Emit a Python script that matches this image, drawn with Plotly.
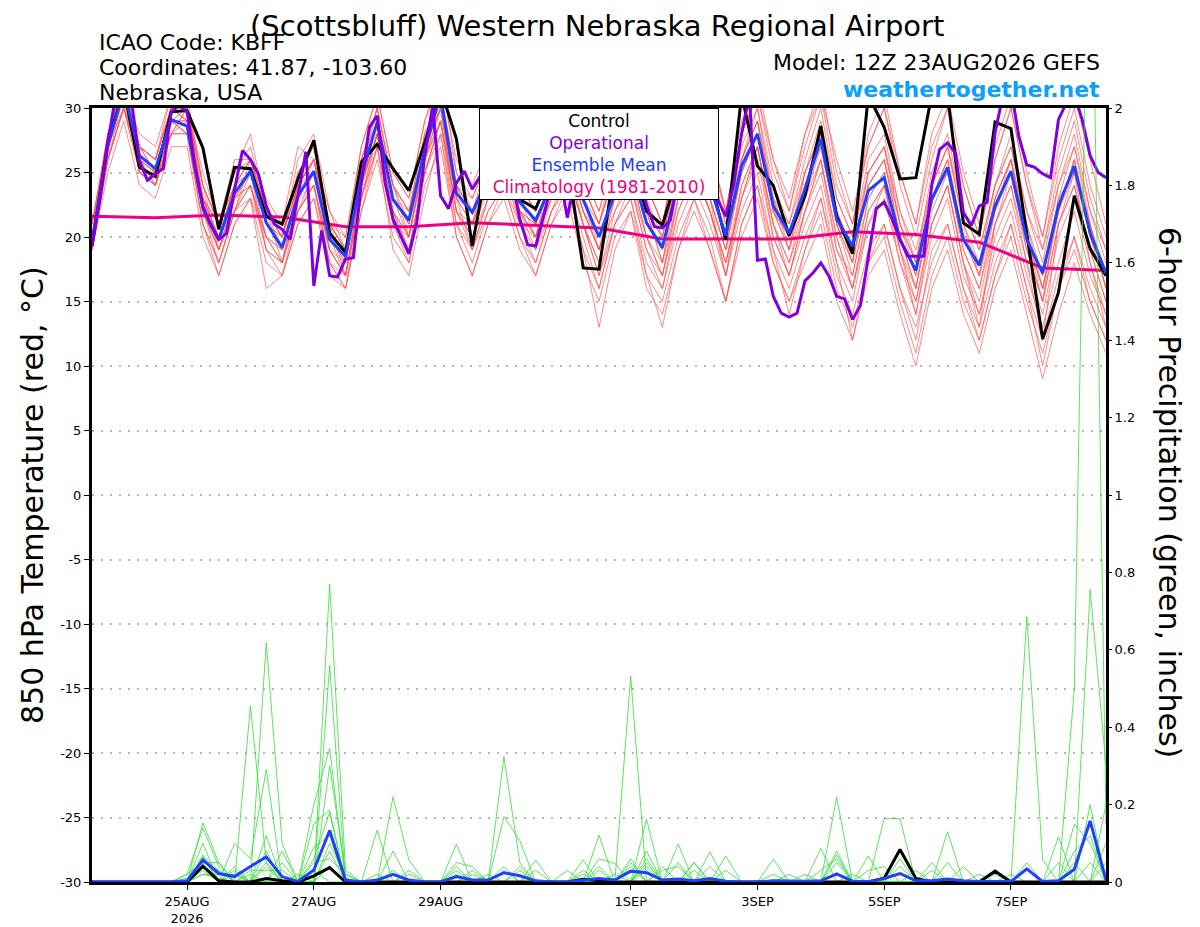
import pandas as pd
import plotly.graph_objects as go

# time axes
t6 = pd.date_range("2026-08-23 12:00", periods=65, freq="6h")
t3 = pd.date_range("2026-08-23 12:00", periods=129, freq="3h")
t24 = pd.date_range("2026-08-23 12:00", periods=17, freq="D")

tick_dates = ["2026-08-25", "2026-08-27", "2026-08-29", "2026-09-01",
              "2026-09-03", "2026-09-05", "2026-09-07"]
tick_text = ["25AUG<br>2026", "27AUG", "29AUG", "1SEP", "3SEP", "5SEP", "7SEP"]

temp_ticks = [-30, -25, -20, -15, -10, -5, 0, 5, 10, 15, 20, 25, 30]
temp_tick_text = ["-30", "-25", "-20", "-15", "-10", "-5", "0", "5", "10", "15", "20", "25", "30"]

# 850 hPa temperature (C)
control_t = [19.3, 27.3, 31.5, 25.4, 24.7, 29.7, 29.8, 26.9, 20.6, 25.4,
             25.3, 21.6, 21.0, 24.5, 27.5, 20.3, 18.8, 25.8, 27.2, 25.3,
             23.6, 27.3, 31.5, 27.6, 19.3, 26.0, 26.5, 22.9, 22.2, 25.0,
             26.0, 17.6, 17.5, 25.5, 26.0, 22.0, 20.9, 25.0, 27.0, 24.5,
             19.8, 31.0, 25.5, 24.0, 20.1, 23.2, 28.6, 21.6, 18.7, 31.0,
             28.5, 24.5, 24.6, 31.0, 31.0, 21.1, 20.2, 28.9, 28.4, 20.3,
             12.1, 15.7, 23.2, 19.1, 17.0]

mean_t = [19.6, 27.0, 31.5, 26.3, 25.3, 29.1, 28.6, 22.2, 19.8, 23.4,
          25.1, 21.1, 19.2, 23.2, 25.1, 19.8, 18.5, 24.7, 28.9, 22.9,
          21.3, 26.8, 31.0, 23.4, 21.9, 24.5, 26.5, 22.7, 21.3, 24.0,
          26.0, 22.9, 20.0, 23.4, 25.5, 21.1, 19.2, 24.2, 26.5, 24.0,
          20.1, 25.5, 28.0, 22.4, 20.3, 23.7, 27.6, 21.4, 19.3, 23.6,
          24.6, 19.8, 17.4, 22.9, 25.4, 19.8, 17.8, 22.4, 25.1, 19.8,
          17.2, 22.4, 25.5, 20.3, 17.2]

# operational run is 3-hourly
oper_t = [19.3, 22.9, 27.3, 31.0, 31.5, 30.5, 25.9, 24.4, 24.9, 25.3,
          29.7, 30.2, 29.7, 25.5, 22.4, 20.9, 19.8, 20.3, 23.7, 26.7,
          26.0, 24.9, 22.4, 21.0, 20.6, 19.8, 23.2, 26.6, 16.2, 20.5,
          17.0, 16.9, 18.3, 18.4, 24.2, 28.5, 29.4, 24.2, 21.4, 20.1,
          18.7, 21.1, 26.3, 30.2, 23.2, 22.2, 24.2, 25.1, 23.7, 24.7,
          25.5, 26.5, 27.0, 24.5, 21.4, 19.4, 19.3, 21.6, 24.0, 25.0,
          21.5, 24.5, 25.0, 24.5, 24.5, 25.5, 26.0, 27.0, 27.0, 25.0,
          22.5, 20.8, 20.7, 21.3, 24.5, 26.0, 27.5, 26.0, 24.0, 22.9,
          21.6, 24.0, 28.0, 31.0, 18.2, 18.3, 15.4, 14.1, 13.8, 14.1,
          16.6, 17.2, 18.0, 17.0, 15.4, 15.2, 13.6, 14.7, 18.3, 22.2,
          22.7, 21.4, 19.8, 18.5, 18.5, 18.5, 24.0, 26.8, 27.3, 26.5,
          21.9, 20.9, 22.4, 22.7, 28.1, 31.0, 31.5, 27.8, 25.6, 25.4,
          24.9, 24.6, 29.1, 30.4, 31.0, 29.1, 26.3, 25.0, 24.6]

clim_t = [21.6, 21.5, 21.7, 21.55, 20.8, 20.8, 21.1, 20.9, 20.7,
          19.85, 19.85, 19.85, 20.4, 20.2, 19.6, 17.6, 17.4]

temp_members = [
    [20, 28, 32, 27, 26, 30, 30, 24, 21, 25, 27, 22, 20, 25, 27, 21, 19, 26, 30, 24,
     22, 28, 31, 25, 23, 26, 28, 24, 22, 26, 28, 24, 21, 25, 28, 23, 20, 26, 29, 26,
     21, 27, 30, 24, 21, 26, 30, 23, 20, 26, 28, 22, 18, 25, 28, 22, 19, 24, 28, 22,
     18, 24, 28, 22, 18],
    [19, 26, 30, 25, 24, 28, 28, 21, 18, 22, 24, 19, 18, 22, 24, 18, 17, 23, 27, 21,
     19, 25, 28, 21, 19, 22, 24, 21, 19, 22, 24, 20, 16, 21, 23, 18, 16, 21, 24, 21,
     17, 22, 25, 19, 16, 20, 23, 17, 14, 19, 21, 16, 13, 18, 21, 16, 13, 18, 21, 16,
     12, 17, 20, 16, 13],
    [21, 27, 31, 28, 27, 31, 30, 25, 21, 26, 26, 23, 21, 27, 26, 22, 20, 27, 31, 25,
     23, 29, 32, 26, 24, 27, 29, 25, 23, 28, 30, 25, 22, 26, 29, 24, 21, 27, 30, 27,
     22, 28, 31, 26, 23, 28, 31, 26, 22, 27, 30, 25, 21, 27, 30, 24, 20, 26, 30, 24,
     19, 25, 29, 23, 19],
    [20, 27, 30, 26, 24, 29, 29, 23, 19, 23, 24, 20, 18, 23, 25, 19, 17, 24, 28, 22,
     20, 26, 29, 22, 20, 23, 25, 22, 20, 23, 25, 21, 18, 23, 25, 20, 17, 23, 25, 22,
     18, 24, 27, 21, 18, 22, 25, 19, 16, 22, 24, 19, 15, 21, 24, 18, 15, 21, 24, 19,
     15, 21, 24, 19, 15],
    [20, 26, 30, 27, 25, 28, 30, 24, 19, 22, 26, 22, 18, 24, 26, 21, 17, 24, 29, 24,
     20, 26, 31, 24, 21, 25, 27, 22, 20, 25, 27, 22, 19, 24, 27, 22, 18, 25, 28, 23,
     19, 26, 29, 23, 19, 25, 28, 22, 18, 25, 27, 21, 17, 24, 27, 21, 17, 23, 26, 21,
     16, 22, 26, 21, 16],
    [19, 25, 29, 24, 23, 27, 27, 20, 17, 21, 23, 18, 17, 21, 23, 17, 16, 22, 26, 20,
     18, 24, 27, 20, 17, 21, 23, 19, 17, 21, 23, 18, 15, 20, 22, 17, 15, 20, 23, 19,
     15, 21, 24, 18, 15, 19, 22, 16, 13, 18, 20, 15, 11, 17, 20, 15, 12, 17, 20, 15,
     11, 16, 19, 15, 12],
    [21, 28, 32, 26, 25, 30, 29, 23, 20, 24, 25, 21, 20, 24, 26, 20, 18, 25, 29, 23,
     22, 27, 30, 24, 22, 25, 27, 23, 21, 24, 27, 23, 20, 23, 26, 21, 19, 25, 27, 24,
     20, 26, 29, 22, 20, 24, 28, 21, 18, 24, 26, 20, 16, 23, 26, 20, 17, 23, 26, 20,
     16, 22, 26, 20, 16],
    [20, 27, 31, 26, 25, 29, 28, 22, 19, 23, 25, 20, 19, 22, 24, 19, 18, 24, 28, 21,
     20, 26, 30, 23, 21, 24, 26, 22, 21, 25, 27, 23, 19, 22, 24, 19, 17, 22, 25, 22,
     17, 23, 26, 20, 17, 21, 24, 18, 15, 21, 23, 18, 14, 20, 23, 17, 14, 19, 22, 17,
     13, 18, 22, 17, 14],
    [20, 27, 31, 27, 26, 30, 30, 23, 21, 24, 26, 22, 20, 24, 26, 21, 19, 26, 30, 24,
     22, 28, 31, 24, 23, 26, 28, 24, 22, 27, 29, 24, 21, 26, 29, 24, 21, 27, 30, 26,
     22, 28, 31, 25, 22, 27, 31, 24, 21, 27, 30, 24, 20, 26, 30, 24, 20, 26, 30, 24,
     20, 26, 30, 24, 20],
    [19, 26, 31, 25, 24, 29, 28, 21, 18, 22, 23, 20, 18, 22, 25, 20, 17, 23, 28, 22,
     19, 25, 29, 22, 19, 23, 25, 21, 18, 22, 25, 21, 17, 21, 24, 19, 16, 22, 25, 22,
     18, 23, 27, 20, 17, 22, 26, 20, 16, 22, 24, 18, 15, 21, 24, 18, 14, 20, 23, 18,
     14, 20, 23, 18, 14],
    [20, 27, 31, 25, 24, 28, 30, 23, 20, 24, 25, 22, 19, 23, 26, 21, 19, 24, 29, 23,
     20, 27, 30, 22, 21, 26, 27, 23, 20, 24, 26, 22, 19, 24, 26, 22, 18, 24, 27, 23,
     19, 25, 28, 22, 19, 23, 27, 21, 17, 23, 25, 20, 16, 23, 25, 19, 16, 22, 25, 20,
     15, 23, 25, 21, 16],
    [19, 26, 30, 25, 24, 28, 28, 21, 17, 21, 23, 16, 17, 21, 23, 18, 16, 22, 27, 19,
     17, 23, 28, 20, 17, 21, 24, 20, 17, 21, 24, 19, 13, 19, 22, 16, 14, 19, 22, 19,
     15, 20, 23, 18, 15, 18, 21, 15, 12, 17, 19, 14, 10, 16, 19, 14, 11, 16, 19, 14,
     9, 14, 18, 14, 11],
    [21, 28, 32, 27, 26, 30, 30, 24, 21, 25, 26, 22, 20, 25, 27, 21, 19, 25, 30, 24,
     21, 27, 31, 24, 22, 25, 27, 23, 21, 25, 28, 24, 21, 25, 27, 22, 20, 25, 28, 25,
     20, 26, 29, 23, 20, 25, 28, 22, 19, 25, 27, 21, 18, 24, 27, 21, 18, 24, 27, 21,
     17, 23, 27, 21, 17],
    [20, 28, 33, 27, 26, 31, 31, 24, 21, 25, 28, 22, 20, 26, 28, 22, 19, 27, 31, 25,
     23, 29, 33, 25, 22, 26, 29, 24, 22, 27, 30, 25, 22, 27, 30, 24, 21, 27, 31, 27,
     22, 29, 32, 26, 22, 28, 32, 25, 21, 28, 31, 25, 21, 28, 31, 25, 21, 27, 31, 25,
     20, 27, 31, 26, 21],
    [20, 26, 30, 26, 24, 28, 29, 22, 19, 22, 24, 19, 17, 22, 24, 18, 16, 23, 27, 21,
     18, 25, 29, 21, 18, 22, 24, 20, 18, 22, 24, 19, 16, 21, 23, 17, 13, 19, 23, 20,
     15, 21, 24, 19, 14, 19, 23, 18, 12, 18, 21, 16, 12, 19, 21, 16, 12, 17, 21, 16,
     10, 16, 20, 15, 12],
    [20, 27, 31, 26, 25, 29, 29, 22, 20, 23, 25, 21, 19, 23, 25, 20, 18, 24, 28, 23,
     21, 26, 30, 23, 21, 24, 26, 22, 20, 24, 26, 22, 19, 23, 25, 21, 19, 24, 26, 23,
     19, 25, 28, 22, 19, 24, 27, 21, 18, 24, 26, 20, 17, 23, 26, 20, 17, 22, 26, 20,
     16, 22, 25, 20, 17],
    [21, 27, 31, 27, 25, 30, 29, 23, 20, 24, 26, 21, 20, 24, 26, 20, 19, 25, 29, 23,
     21, 27, 30, 23, 22, 25, 27, 22, 21, 24, 26, 22, 20, 24, 26, 21, 19, 24, 27, 24,
     20, 25, 28, 22, 20, 24, 28, 22, 19, 24, 26, 21, 18, 23, 26, 20, 18, 23, 26, 20,
     17, 22, 26, 20, 17],
    [20, 27, 31, 26, 25, 29, 28, 22, 19, 23, 24, 20, 19, 24, 25, 19, 17, 24, 28, 22,
     20, 26, 29, 22, 20, 24, 26, 21, 20, 23, 25, 21, 18, 24, 24, 20, 18, 23, 26, 22,
     18, 23, 27, 21, 18, 23, 26, 19, 17, 23, 25, 19, 16, 22, 25, 19, 16, 21, 25, 19,
     15, 21, 24, 19, 15],
    [20, 28, 31, 27, 26, 30, 29, 23, 21, 24, 26, 22, 21, 24, 26, 21, 20, 26, 29, 24,
     22, 27, 31, 24, 22, 25, 28, 23, 22, 25, 27, 23, 21, 25, 27, 22, 20, 25, 28, 25,
     21, 26, 30, 23, 21, 25, 29, 23, 20, 25, 27, 22, 19, 24, 27, 22, 19, 24, 27, 22,
     19, 24, 27, 22, 19],
    [19, 27, 31, 25, 25, 29, 30, 22, 18, 22, 25, 19, 18, 23, 24, 19, 17, 23, 28, 22,
     19, 25, 29, 23, 19, 23, 26, 22, 19, 23, 26, 21, 17, 22, 25, 20, 17, 23, 26, 23,
     17, 24, 27, 21, 17, 22, 26, 20, 16, 21, 24, 19, 14, 21, 24, 18, 13, 21, 24, 18,
     12, 21, 25, 18, 13],
]

# 6-hour precipitation (inches)
control_p = [0, 0, 0, 0, 0, 0, 0, .041, .003, 0,
             0, .009, .003, 0, .016, .037, 0, 0, 0, 0,
             0, 0, 0, 0, 0, 0, 0, 0, 0, 0,
             0, .007, .004, 0, 0, 0, 0, 0, 0, 0,
             0, 0, 0, 0, 0, 0, 0, 0, 0, 0,
             .01, .084, .009, 0, 0, 0, 0, .028, 0, 0,
             0, 0, 0, 0, 0]

mean_p = [0, 0, 0, 0, 0, 0, .003, .057, .022, .014,
          .04, .065, .014, .001, .031, .133, .005, 0, .005, .02,
          .005, 0, 0, .014, .005, .005, .024, .016, .003, 0,
          0, .005, .009, .005, .028, .024, .005, .008, .003, .009,
          .002, 0, 0, .003, .002, .002, .003, .021, .002, .001,
          .009, .022, .003, .003, .008, .003, .001, .001, .001, .034,
          .001, .003, .033, .158, .005]

precip_members = [
    [0, 0, 0, 0, 0, 0, 0, .153, .05, 0, 0, .618, .1, 0, 0, .56, 0, 0, 0, .02,
     0, 0, 0, 0, 0, 0, .324, .05, 0, 0, 0, 0, 0, 0, .06, 0, 0, 0, 0, 0,
     0, 0, 0, 0, 0, 0, 0, .22, 0, 0, 0, .06, 0, 0, 0, 0, 0, 0, 0, .686,
     .057, 0, 0, .2, 0],
    [0, 0, 0, 0, 0, 0, .02, .139, .04, 0, .455, .05, 0, 0, 0, .77, .03, 0, 0, .22,
     .057, 0, 0, 0, 0, 0, 0, 0, 0, 0, 0, 0, .121, 0, 0, .05, 0, 0, 0, 0,
     0, 0, 0, 0, 0, 0, .087, 0, 0, 0, 0, 0, 0, 0, .13, 0, 0, 0, 0, 0,
     0, 0, .5, 2.8, .15],
    [0, 0, 0, 0, 0, 0, 0, .07, 0, .1, .06, .29, 0, 0, .2, .345, 0, 0, .134, 0,
     0, 0, 0, .098, 0, 0, 0, 0, 0, 0, 0, .057, 0, 0, .532, 0, 0, 0, .05, 0,
     0, 0, 0, 0, 0, 0, 0, 0, 0, 0, .164, .164, 0, 0, 0, 0, 0, 0, 0, 0,
     0, .117, 0, .756, .3],
    [0, 0, 0, 0, 0, 0, 0, .065, .03, 0, 0, .12, 0, 0, 0, .3, .02, 0, 0, 0,
     0, 0, 0, .05, .04, 0, .169, .107, 0, 0, 0, 0, 0, 0, 0, .162, 0, .098, 0, 0,
     0, 0, 0, 0, 0, 0, 0, .08, 0, 0, 0, 0, 0, .05, 0, 0, 0, 0, 0, 0,
     0, 0, .15, .1, 0],
    [0, 0, 0, 0, 0, 0, 0, .06, 0, .04, 0, 0, .05, 0, .15, .186, 0, 0, 0, .08,
     0, 0, 0, 0, 0, 0, .04, 0, .057, 0, 0, 0, .06, .048, 0, 0, 0, 0, 0, .078,
     0, 0, 0, 0, 0, 0, 0, .07, 0, 0, 0, 0, 0, 0, 0, .04, 0, 0, 0, 0,
     0, 0, 0, 0, .2],
    [0, 0, 0, 0, 0, 0, .01, .05, .03, 0, 0, .04, 0, 0, .09, .12, 0, 0, 0, 0,
     .03, 0, 0, .03, 0, 0, 0, 0, 0, 0, 0, 0, .03, 0, 0, .08, 0, 0, 0, 0,
     .067, 0, 0, .059, 0, 0, 0, 0, 0, .067, 0, 0, 0, 0, 0, 0, 0, 0, 0, .05,
     0, .05, 0, 0, 0],
    [0, 0, 0, 0, 0, 0, 0, .04, 0, 0, .03, .03, .03, 0, 0, .08, 0, 0, 0, 0,
     0, 0, 0, 0, .02, 0, 0, .04, 0, 0, 0, 0, 0, 0, .05, 0, 0, .05, 0, 0,
     0, 0, 0, 0, 0, 0, .03, .06, 0, 0, 0, 0, 0, 0, .05, 0, 0, 0, 0, 0,
     0, 0, .05, 0, .1],
    [0, 0, 0, 0, 0, 0, 0, .03, 0, .03, 0, 0, 0, 0, .05, .06, .02, 0, 0, 0,
     0, 0, 0, .02, 0, 0, 0, 0, 0, 0, 0, .02, 0, 0, 0, .06, 0, 0, .05, 0,
     0, 0, 0, .02, 0, 0, 0, 0, 0, .03, .04, 0, 0, 0, 0, 0, 0, 0, 0, 0,
     0, 0, 0, .05, 0],
    [0, 0, 0, 0, 0, 0, 0, .02, .02, .02, 0, 0, 0, .02, 0, .04, 0, 0, .02, 0,
     0, 0, 0, 0, 0, 0, .03, 0, .03, 0, 0, 0, 0, .02, 0, 0, .04, 0, 0, .04,
     0, 0, 0, 0, 0, 0, 0, .05, 0, 0, 0, 0, .03, 0, 0, 0, .02, 0, 0, 0,
     0, 0, 0, 0, 0],
    [0, 0, 0, 0, 0, 0, 0, .02, .01, 0, 0, .05, 0, 0, .03, 0, 0, 0, 0, .03,
     0, 0, 0, 0, 0, .02, 0, 0, 0, 0, .03, 0, 0, 0, .04, 0, .03, .04, 0, 0,
     .03, 0, 0, 0, .02, 0, 0, 0, 0, 0, 0, .04, 0, .03, 0, 0, 0, 0, .02, 0,
     0, 0, 0, 0, .05],
    [0, 0, 0, 0, 0, 0, .02, .05, .05, 0, .02, 0, .08, 0, 0, .1, .01, 0, 0, 0,
     0, 0, 0, 0, .03, 0, 0, .03, 0, 0, 0, 0, .04, 0, 0, .03, 0, 0, .03, 0,
     0, 0, 0, 0, 0, 0, 0, 0, .02, 0, 0, 0, 0, 0, 0, 0, 0, .02, 0, 0,
     0, 0, 0, 0, 0],
    [0, 0, 0, 0, 0, 0, 0, .1, 0, .02, 0, .08, 0, 0, .06, .18, 0, 0, 0, 0,
     .02, 0, 0, .04, 0, 0, 0, 0, 0, 0, 0, .03, 0, 0, 0, .04, 0, 0, 0, 0,
     0, 0, 0, 0, 0, .02, 0, 0, 0, 0, 0, 0, 0, 0, 0, 0, 0, 0, 0, 0,
     0, 0, .08, .12, 0],
]

RED = "#ff5050"
GREEN = "#33dd33"
BLACK = "#000000"
PURPLE = "#8000dd"
BLUE = "#2040ff"
MAGENTA = "#ee0080"
FONT = "DejaVu Sans, Verdana, sans-serif"

fig = go.Figure()

for m in temp_members:
    fig.add_trace(go.Scatter(x=t6, y=m, mode="lines", opacity=0.85,
                             line=dict(color=RED, width=0.8)))
for m in precip_members:
    fig.add_trace(go.Scatter(x=t6, y=m, mode="lines", yaxis="y2",
                             line=dict(color=GREEN, width=0.8)))

fig.add_trace(go.Scatter(x=t6, y=control_p, mode="lines", yaxis="y2",
                         line=dict(color=BLACK, width=3)))
fig.add_trace(go.Scatter(x=t6, y=mean_p, mode="lines", yaxis="y2",
                         line=dict(color=BLUE, width=3)))

fig.add_trace(go.Scatter(x=t24, y=clim_t, mode="lines", line=dict(color=MAGENTA, width=3)))
fig.add_trace(go.Scatter(x=t6, y=control_t, mode="lines", line=dict(color=BLACK, width=3)))
fig.add_trace(go.Scatter(x=t6, y=mean_t, mode="lines", line=dict(color=BLUE, width=3)))
fig.add_trace(go.Scatter(x=t3, y=oper_t, mode="lines", line=dict(color=PURPLE, width=3)))

# plot area in page pixels (page has an 8px body margin)
PAGE_OFF = 8
L, R, T, B = 92, 1106, 108, 882
W, H = 1184, 919


def px_x(p):
    return (p - L) / (R - L)


def px_y(p):
    return (B - p) / (B - T)


def note(text, x, y, size, xanchor="center", color="black", angle=0):
    fig.add_annotation(text=text, x=px_x(x), y=px_y(y), xref="paper", yref="paper",
                       xanchor=xanchor, yanchor="middle", showarrow=False,
                       textangle=angle, font=dict(family=FONT, size=size, color=color))


note("(Scottsbluff) Western Nebraska Regional Airport", 597, 26.5, 29)
note("ICAO Code: KBFF", 97, 42, 22, "left")
note("Coordinates: 41.87, -103.60", 97, 67, 22, "left")
note("Nebraska, USA", 97, 93, 22, "left")
note("Model: 12Z 23AUG2026 GEFS", 1102, 63, 22, "right")
note("<b>weathertogether.net</b>", 1102, 89, 22, "right", color="#0aa0ff")
note("850 hPa Temperature (red, °C)", 32, 495, 30, angle=-90)
note("6-hour Precipitation (green, inches)", 1170, 492, 30, angle=90)

legend_text = ("<span style='color:black'>Control</span><br>"
               f"<span style='color:{PURPLE}'>Operational</span><br>"
               f"<span style='color:{BLUE}'>Ensemble Mean</span><br>"
               f"<span style='color:{MAGENTA}'>Climatology (1981-2010)</span>")
fig.add_annotation(text=legend_text, x=px_x(599), y=1, xref="paper", yref="paper",
                   xanchor="center", yanchor="top", showarrow=False,
                   width=236, height=88, bgcolor="white", bordercolor="black",
                   borderwidth=1, borderpad=1, align="center",
                   font=dict(family=FONT, size=17))

fig.update_layout(
    width=W, height=H,
    margin=dict(l=L - PAGE_OFF, r=W - (R - PAGE_OFF), t=T - PAGE_OFF,
                b=H - (B - PAGE_OFF), pad=0),
    paper_bgcolor="white", plot_bgcolor="white",
    showlegend=False,
    font=dict(family=FONT, size=13, color="black"),
    xaxis=dict(range=[t6[0], t6[-1]], tickvals=tick_dates, ticktext=tick_text,
               ticks="outside", ticklen=5, tickwidth=1, tickcolor="black",
               showgrid=False, showline=True, linecolor="black", linewidth=3,
               mirror=True, zeroline=False, automargin=False,
               tickfont=dict(family=FONT, size=13)),
    yaxis=dict(range=[-30, 30], tickvals=temp_ticks, ticktext=temp_tick_text,
               ticks="outside", ticklen=5, tickcolor="black", showline=True,
               linecolor="black", linewidth=3, mirror=True, showgrid=True,
               gridcolor="#b4b4b4", griddash="2px,7px", gridwidth=1.5,
               zeroline=False, automargin=False,
               tickfont=dict(family=FONT, size=13)),
    yaxis2=dict(range=[0, 2], dtick=0.2, overlaying="y", side="right",
                ticks="outside", ticklen=5, tickcolor="black", showgrid=False,
                zeroline=False, showline=False, automargin=False,
                tickfont=dict(family=FONT, size=13)),
)

fig.write_html("out.html")
